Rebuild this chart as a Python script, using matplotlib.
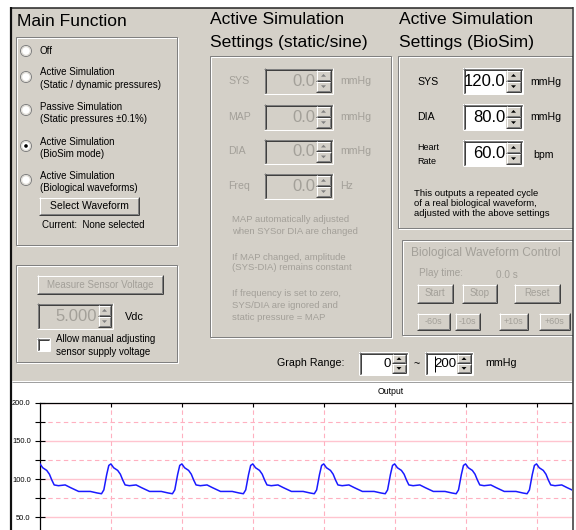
import numpy as np
import matplotlib
matplotlib.use('Agg')
import matplotlib.pyplot as plt
from matplotlib.patches import Rectangle, Circle, Polygon

# ---------------- data ----------------
cycle_phase = [0.0, 0.038, 0.095, 0.133, 0.166, 0.2, 0.26, 0.355, 0.43,
               0.545, 0.71, 0.806, 0.867, 0.9, 0.94, 0.97]
cycle_mmhg = [120, 115, 111.5, 106.5, 99, 92.5, 91.5, 92.5, 89,
              84, 84, 82, 81, 86, 106, 118]
n_cycles = 8
y_major = [50, 100, 150, 200]
y_major_labels = ['50.0', '100.0', '150.0', '200.0']
y_minor = [25, 75, 125, 175]
x_grid_seconds = [1, 2, 3, 4, 5, 6, 7]
y_range = [0, 200]
x_range = [0, 7.5]

FONT = 'Liberation Sans'
BEIGE = '#d4d0c8'
GREY_TXT = '#a3a099'
DARK = '#808080'
PX = 0.72  # one pixel in points at dpi=100

fig = plt.figure(figsize=(5.76, 5.3), dpi=100)
fig.patch.set_facecolor('white')

# GUI layer in pixel coordinates
g = fig.add_axes([0, 0, 1, 1], zorder=0)
g.set_xlim(0, 576)
g.set_ylim(530, 0)
g.axis('off')


def line(x0, y0, x1, y1, c, lw=1, ax=None, **kw):
    (ax or g).plot([x0, x1], [y0, y1], color=c, lw=lw * PX,
                   solid_capstyle='butt', **kw)


def text(x, y, s, fs=7, c='black', ha='left', **kw):
    g.text(x, y, s, fontsize=fs, color=c, ha=ha, va='center',
           family=FONT, **kw)


def etched(x0, y0, x1, y1):
    for off, c in ((1, 'white'), (0, DARK)):
        g.add_patch(Rectangle((x0 + off, y0 + off), x1 - x0, y1 - y0,
                              fill=False, ec=c, lw=PX))


def raised(x0, y0, x1, y1, fill=BEIGE):
    g.add_patch(Rectangle((x0, y0), x1 - x0, y1 - y0, fc=fill, ec='none'))
    line(x0, y0 + 0.5, x1, y0 + 0.5, 'white')
    line(x0 + 0.5, y0, x0 + 0.5, y1, 'white')
    line(x0, y1 - 0.5, x1, y1 - 0.5, '#404040')
    line(x1 - 0.5, y0, x1 - 0.5, y1, '#404040')
    line(x0 + 1, y1 - 1.5, x1 - 1, y1 - 1.5, DARK)
    line(x1 - 1.5, y0 + 1, x1 - 1.5, y1 - 1, DARK)


def button(x0, y0, x1, y1, s, enabled=True, fs=7):
    raised(x0, y0, x1, y1)
    text((x0 + x1) / 2, (y0 + y1) / 2, s, fs=fs,
         c='black' if enabled else GREY_TXT, ha='center')


def sunken(x0, y0, x1, y1, fill):
    g.add_patch(Rectangle((x0, y0), x1 - x0, y1 - y0, fc=fill, ec='none'))
    line(x0, y0 + 0.5, x1, y0 + 0.5, DARK)
    line(x0 + 0.5, y0, x0 + 0.5, y1, DARK)
    line(x0 + 1, y0 + 1.5, x1 - 1, y0 + 1.5, '#404040')
    line(x0 + 1.5, y0 + 1, x0 + 1.5, y1 - 1, '#404040')
    line(x0, y1 - 0.5, x1, y1 - 0.5, 'white')
    line(x1 - 0.5, y0, x1 - 0.5, y1, 'white')


def spinbox(x0, y0, x1, y1, s, enabled=True, spin_w=15, fs=12):
    sunken(x0, y0, x1, y1, 'white' if enabled else BEIGE)
    sx0, sx1 = x1 - 2 - spin_w, x1 - 2
    my = (y0 + y1) / 2
    raised(sx0, y0 + 2, sx1, my)
    raised(sx0, my, sx1, y1 - 2)
    tc = 'black' if enabled else DARK
    cx = (sx0 + sx1) / 2
    for yy, d in ((y0 + 2 + (my - y0 - 2) / 2, -1), (my + (y1 - 2 - my) / 2, 1)):
        g.add_patch(Polygon([[cx - 2.5, yy - d * 1.2], [cx + 2.5, yy - d * 1.2],
                             [cx, yy + d * 1.5]], closed=True, fc=tc, ec='none'))
    text(sx0 - 1, my + 0.5, s, fs=fs, c='black' if enabled else GREY_TXT,
         ha='right')


def radio(x, y, selected=False):
    g.add_patch(Circle((x, y), 5.5, fc='#f4f3ef', ec=DARK, lw=PX))
    g.add_patch(Circle((x, y), 4.3, fc='white', ec='#dcd9d2', lw=PX))
    if selected:
        g.add_patch(Circle((x, y), 1.8, fc='black', ec='none'))


# window background and frame
g.add_patch(Rectangle((12, 8), 560, 373, fc=BEIGE, ec='none'))
line(12, 381.5, 572, 381.5, '#a0a0a0')

# ---- Main Function ----
text(17, 22, 'Main Function', fs=12.6)
etched(16, 37, 177, 245)
radio(26, 51)
text(40, 51, 'Off')
radio(26, 77)
text(40, 72, 'Active Simulation')
text(40, 85, '(Static / dynamic pressures)')
radio(26, 110)
text(40, 107, 'Passive Simulation')
text(40, 119, '(Static pressures \u00b10.1%)')
radio(26, 146, selected=True)
text(40, 142, 'Active Simulation')
text(40, 154, '(BioSim mode)')
radio(26, 180)
text(40, 176, 'Active Simulation')
text(40, 188, '(Biological waveforms)')
button(39, 197, 139, 215, 'Select Waveform', fs=7.5)
text(42, 225, 'Current:  None selected')

etched(16, 265, 177, 362)
button(37, 275, 163, 294, 'Measure Sensor Voltage', enabled=False, fs=7)
spinbox(37, 303, 113, 329, '5.000', enabled=False, spin_w=13, fs=12)
text(125, 317, 'Vdc', fs=7.8)
sunken(37, 338, 50, 351, 'white')
text(56, 339, 'Allow manual adjusting')
text(56, 352, 'sensor supply voltage')

# ---- Active Simulation (static/sine) ----
text(210, 20, 'Active Simulation', fs=12.6)
text(210, 43, 'Settings (static/sine)', fs=12.6)
etched(210, 56, 391, 337)
rows = [('SYS', 68, 94, 'mmHg'), ('MAP', 104, 130, 'mmHg'),
        ('DIA', 139, 164, 'mmHg'), ('Freq', 173, 199, 'Hz')]
for lab, y0, y1, unit in rows:
    ym = (y0 + y1) / 2
    text(228, ym, lab, fs=7.6, c=GREY_TXT)
    spinbox(264, y0, 333, y1, '0.0', enabled=False, spin_w=15, fs=12)
    text(340, ym, unit, fs=7.6, c=GREY_TXT)
notes_mid = [('MAP automatically adjusted', 219), ('when SYSor DIA are changed', 231),
             ('If MAP changed, amplitude', 257), ('(SYS-DIA) remains constant', 268),
             ('If frequency is set to zero,', 294), ('SYS/DIA are ignored and', 305),
             ('static pressure = MAP', 317)]
for s, y in notes_mid:
    text(232, y, s, fs=6.8, c=GREY_TXT)

# ---- Active Simulation (BioSim) ----
text(399, 20, 'Active Simulation', fs=12.6)
text(399, 43, 'Settings (BioSim)', fs=12.6)
etched(398, 56, 575, 228)
text(417, 82, 'SYS', fs=7.6)
spinbox(463, 68, 523, 94, '120.0', spin_w=15, fs=12)
text(530, 82, 'mmHg', fs=7.6)
text(417, 117, 'DIA', fs=7.6)
spinbox(463, 104, 523, 130, '80.0', spin_w=15, fs=12)
text(530, 117, 'mmHg', fs=7.6)
text(417, 148, 'Heart', fs=6.5)
text(417, 161, 'Rate', fs=6.5)
spinbox(463, 140, 523, 166, '60.0', spin_w=15, fs=12)
text(533, 155, 'bpm', fs=7.6)
for s, y in [('This outputs a repeated cycle', 193),
             ('of a real biological waveform,', 203),
             ('adjusted with the above settings', 213)]:
    text(414, y, s, fs=6.8)

etched(402, 240, 575, 335)
text(411, 253, 'Biological Waveform Control', fs=8.6, c=GREY_TXT)
text(419, 273, 'Play time:', fs=7.2, c=GREY_TXT)
text(496, 275, '0.0 s', fs=7.2, c=GREY_TXT)
for s, x0, x1 in [('Start', 417, 453), ('Stop', 462, 497), ('Reset', 514, 560)]:
    button(x0, 284, x1, 303, s, enabled=False, fs=7)
for s, x0, x1 in [('-60s', 417, 450), ('-10s', 455, 480), ('+10s', 499, 528),
                  ('+60s', 539, 570)]:
    button(x0, 313, x1, 330, s, enabled=False, fs=6.5)

# ---- Graph range ----
text(277, 363, 'Graph Range:', fs=7.7)
spinbox(359, 352, 408, 375, '0', spin_w=14, fs=9.5)
text(414, 364, '~', fs=7.7)
spinbox(425, 352, 473, 375, '200', spin_w=14, fs=9.5)
line(435, 356, 435, 372, 'black')
text(485, 363, 'mmHg', fs=7.7)

text(378, 392, 'Output', fs=6.3)

# ---------------- chart ----------------
t = np.concatenate([k + np.array(cycle_phase) for k in range(n_cycles)] + [[n_cycles]])
v = np.concatenate([np.array(cycle_mmhg, float) for _ in range(n_cycles)] + [[cycle_mmhg[0]]])

W, H = 576.0, 530.0
left_px, right_px, top_px, bottom_px = 40, 572, 402.7, 555.7
ax = fig.add_axes([left_px / W, 1 - bottom_px / H, (right_px - left_px) / W,
                   (bottom_px - top_px) / H], zorder=1)
ax.set_facecolor('white')
ax.set_xlim(*x_range)
ax.set_ylim(*y_range)
for yv in y_major:
    ax.axhline(yv, color='#ffc4cf', lw=1.0, zorder=1)
for yv in y_minor:
    ax.axhline(yv, color='#ffb0c0', lw=0.8, ls=(0, (4, 3)), zorder=1)
for xv in x_grid_seconds:
    ax.axvline(xv, color='#ffb0c0', lw=0.8, ls=(0, (4, 3)), zorder=1)
ax.plot(t, v, color='#1a1aff', lw=1.1, zorder=3)

ax.set_yticks(y_major)
ax.set_yticklabels(y_major_labels, family=FONT, fontsize=5.4)
ax.set_yticks(y_minor, minor=True)
ax.tick_params(axis='y', which='both', direction='inout', length=7, width=0.8,
               pad=3.2)
ax.set_xticks(x_grid_seconds)
ax.tick_params(axis='x', which='both', bottom=False, top=True, labelbottom=False,
               direction='in', length=3, width=0.8)
for s in ('right', 'bottom'):
    ax.spines[s].set_visible(False)
for s in ('left', 'top'):
    ax.spines[s].set_linewidth(0.9)

# ---------------- window border on top ----------------
b = fig.add_axes([0, 0, 1, 1], zorder=2)
b.set_xlim(0, 576)
b.set_ylim(530, 0)
b.axis('off')
b.patch.set_alpha(0)
b.add_patch(Rectangle((573.2, 0), 3, 530, fc='white', ec='none'))
line(10, 7.5, 573, 7.5, '#202020', lw=1.5, ax=b)
line(11, 7, 11, 530, '#101010', lw=2.2, ax=b)
line(572.5, 7, 572.5, 530, '#303030', lw=1.5, ax=b)

fig.savefig('out.png', dpi=100)
